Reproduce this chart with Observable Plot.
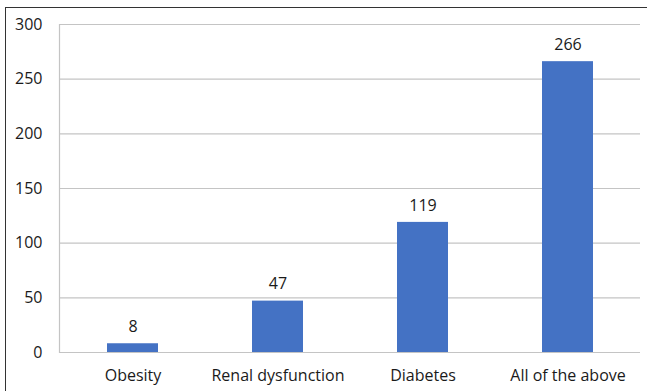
<!DOCTYPE html>
<html>
<head>
<meta charset="utf-8">
<script src="https://cdn.jsdelivr.net/npm/d3@7"></script>
<script src="https://cdn.jsdelivr.net/npm/@observablehq/plot@0.6"></script>
<style>
  html, body { margin: 0; padding: 0; background: #fff; }
  #wrap { position: relative; width: 647px; height: 391px; overflow: hidden; }
  #box { position: absolute; left: 5px; top: 7px; width: 660px; height: 400px;
         border-left: 1.5px solid #333; border-top: 1.5px solid #333; }
  #chart { position: absolute; left: 0; top: 0; }
</style>
</head>
<body>
<div id="wrap"><div id="box"></div><div id="chart"></div></div>
<script>
// Number of patients by comorbidity group
const categories = ["Obesity", "Renal dysfunction", "Diabetes", "All of the above"];
const counts = [8, 47, 119, 266];
const yTicks = [0, 50, 100, 150, 200, 250, 300];

const rows = categories.map((c, i) => ({category: c, count: counts[i]}));
const font = "'Open Sans', Lato, sans-serif";

const chart = Plot.plot({
  width: 647,
  height: 391,
  marginLeft: 59,
  marginRight: 7,
  marginTop: 24,
  marginBottom: 39,
  style: {fontFamily: font, fontSize: "16px", color: "#1a1a1a", background: "transparent"},
  x: {domain: categories, paddingInner: 0.65, paddingOuter: 0.325, label: null},
  y: {domain: [0, 300], label: null},
  marks: [
    Plot.gridY(yTicks, {stroke: "#c4c4c4", strokeOpacity: 1, strokeWidth: 1.2}),
    Plot.frame({anchor: "left", stroke: "#c4c4c4", strokeWidth: 1.2}),
    Plot.barY(rows, {x: "category", y: "count", fill: "#4472C4"}),
    Plot.text(rows, {x: "category", y: "count", text: d => String(d.count), dy: -17,
                     fill: "#1a1a1a", fontSize: 16}),
    Plot.axisY(yTicks, {tickSize: 0, tickPadding: 17, fontSize: 16, fill: "#1a1a1a"}),
    Plot.axisX({tickSize: 0, tickPadding: 17, fontSize: 16, fill: "#1a1a1a"})
  ]
});
document.getElementById("chart").appendChild(chart);
</script>
</body>
</html>
